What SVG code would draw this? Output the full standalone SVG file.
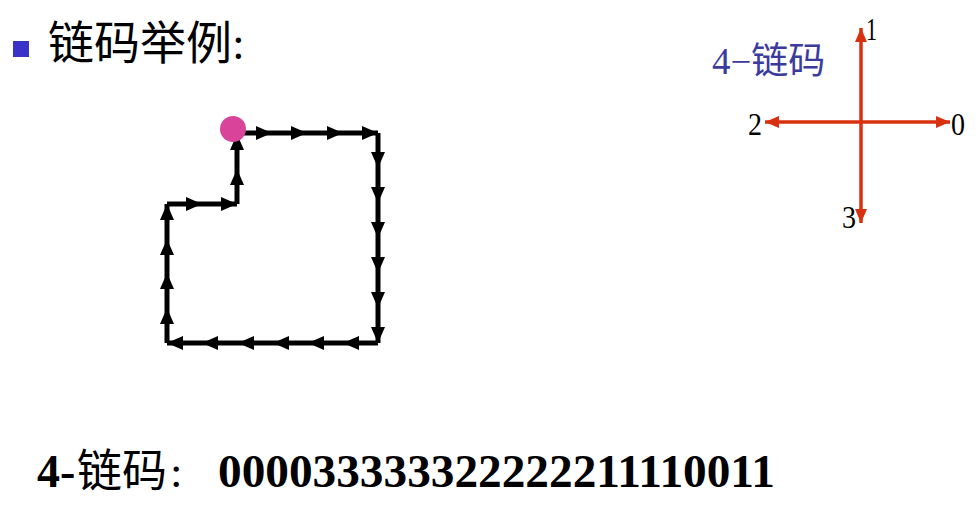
<svg xmlns="http://www.w3.org/2000/svg" width="979" height="509" viewBox="0 0 979 509">
<style>
.cjk{font-family:"Liberation Serif","Noto Sans CJK SC",serif}
.num{font-family:"Liberation Serif",serif}
.ch line{stroke:#000;stroke-width:5;marker-end:url(#ah)}
.cp line{stroke:#D9300F;stroke-width:3.5;marker-start:url(#rs);marker-end:url(#re)}
</style>
<defs>
<marker id="ah" markerUnits="userSpaceOnUse" markerWidth="18" markerHeight="18" refX="17" refY="9" orient="auto"><path d="M1,2 L17,9 L1,16 Z" fill="#000"/></marker>
<marker id="re" markerUnits="userSpaceOnUse" markerWidth="15" markerHeight="15" refX="14" refY="7.5" orient="auto"><path d="M0,1.5 L14,7.5 L0,13.5 Z" fill="#D9300F"/></marker>
<marker id="rs" markerUnits="userSpaceOnUse" markerWidth="15" markerHeight="15" refX="1" refY="7.5" orient="auto"><path d="M15,1.5 L1,7.5 L15,13.5 Z" fill="#D9300F"/></marker>
</defs>
<rect width="979" height="509" fill="#fff"/>
<g id="title">
<rect x="13" y="41" width="16" height="16" fill="#3A33C8"/>
<text x="48" y="59" class="cjk" font-size="46" fill="#000">链码举例:</text>
</g>
<g id="chain" class="ch">
<line x1="237" y1="133" x2="272" y2="133"/>
<line x1="272" y1="133" x2="307" y2="133"/>
<line x1="307" y1="133" x2="343" y2="133"/>
<line x1="343" y1="133" x2="378" y2="133"/>
<line x1="378" y1="133" x2="378" y2="168"/>
<line x1="378" y1="168" x2="378" y2="203"/>
<line x1="378" y1="203" x2="378" y2="238"/>
<line x1="378" y1="238" x2="378" y2="273"/>
<line x1="378" y1="273" x2="378" y2="308"/>
<line x1="378" y1="308" x2="378" y2="343"/>
<line x1="378" y1="343" x2="343" y2="343"/>
<line x1="343" y1="343" x2="308" y2="343"/>
<line x1="308" y1="343" x2="273" y2="343"/>
<line x1="273" y1="343" x2="238" y2="343"/>
<line x1="238" y1="343" x2="202" y2="343"/>
<line x1="202" y1="343" x2="167" y2="343"/>
<line x1="167" y1="343" x2="167" y2="308"/>
<line x1="167" y1="308" x2="167" y2="273"/>
<line x1="167" y1="273" x2="167" y2="239"/>
<line x1="167" y1="239" x2="167" y2="204"/>
<line x1="167" y1="204" x2="202" y2="204"/>
<line x1="202" y1="204" x2="237" y2="204"/>
<line x1="237" y1="204" x2="237" y2="169"/>
<line x1="237" y1="169" x2="237" y2="134"/>
</g>
<g id="start">
<circle cx="233" cy="129" r="13" fill="#D9439A"/>
</g>
<g id="compass">
<g class="cp">
<line x1="861" y1="223" x2="861" y2="28"/>
<line x1="765" y1="122" x2="950" y2="122"/>
</g>
<text x="712" y="74" class="cjk" font-size="37" fill="#3B3B9E">4−链码</text>
<g class="num" font-size="32" fill="#000">
<text x="866" y="40" textLength="11" lengthAdjust="spacingAndGlyphs">1</text>
<text x="748" y="135" textLength="14" lengthAdjust="spacingAndGlyphs">2</text>
<text x="951" y="135" textLength="14" lengthAdjust="spacingAndGlyphs">0</text>
<text x="842" y="228" textLength="14" lengthAdjust="spacingAndGlyphs">3</text>
</g>
</g>
<g id="code">
<text x="37" y="487" class="num" font-size="46" font-weight="bold" fill="#000">4-</text>
<text x="77" y="487" class="cjk" font-size="45" fill="#000">链码</text>
<text x="170" y="487" class="cjk" font-size="45" fill="#000">:</text>
<text x="218" y="487" class="num" font-size="46" font-weight="bold" fill="#000" textLength="557" lengthAdjust="spacingAndGlyphs">000033333322222211110011</text>
</g>
</svg>
